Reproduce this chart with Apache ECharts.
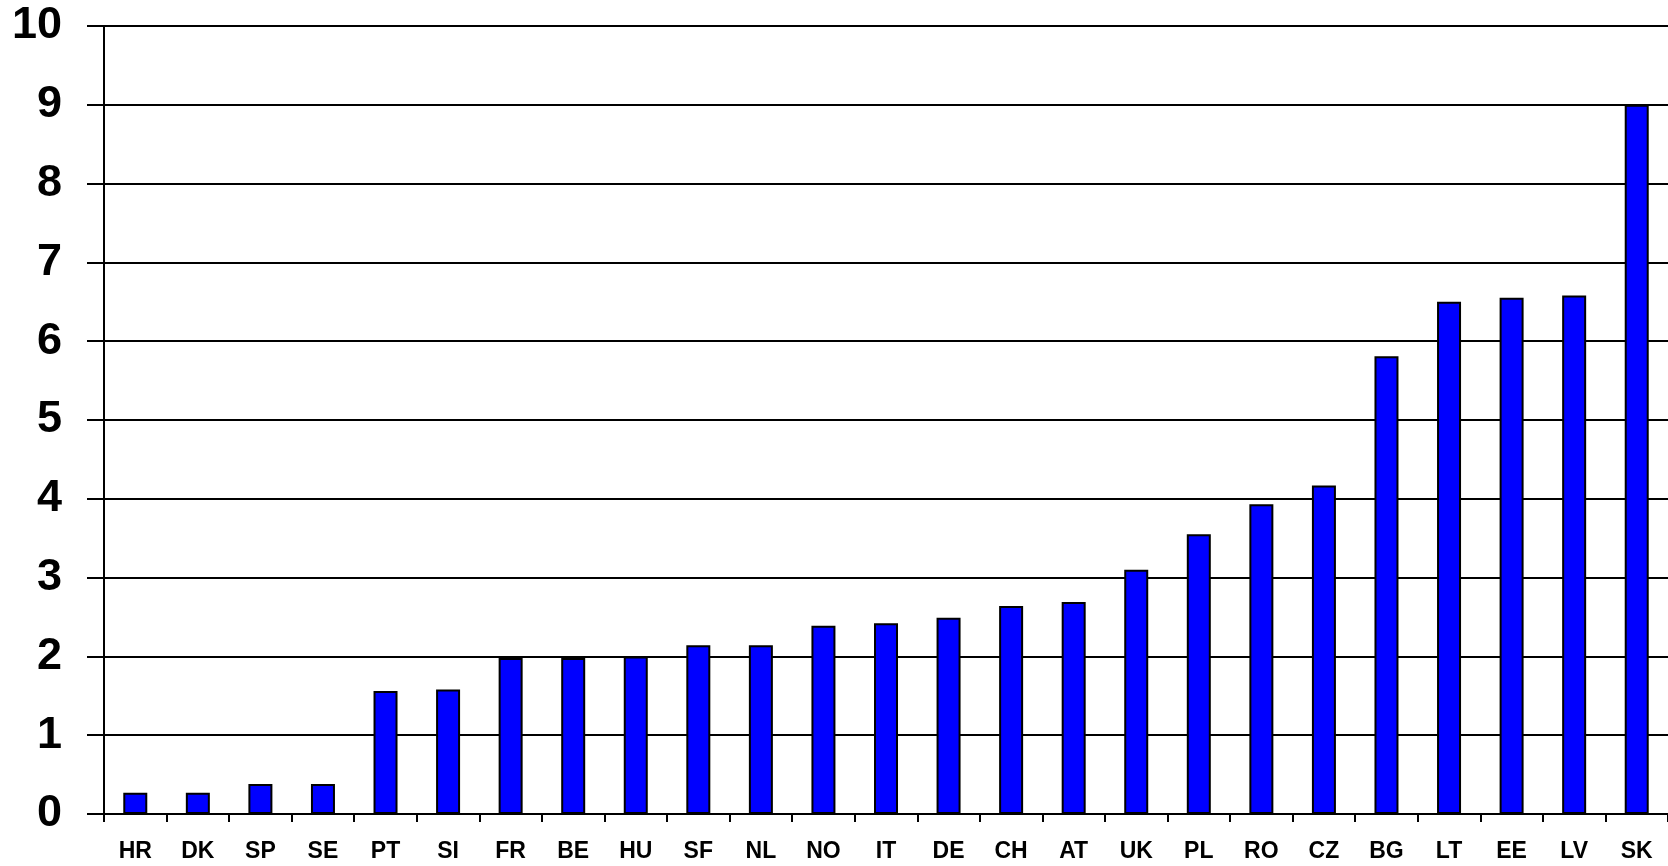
<!DOCTYPE html>
<html>
<head>
<meta charset="utf-8">
<script src="https://cdn.jsdelivr.net/npm/echarts@6/dist/echarts.min.js"></script>
<style>
html,body{margin:0;padding:0;background:#fff;}
#chart{width:1668px;height:866px;}
</style>
</head>
<body>
<div id="chart"></div>
<script>
const categories = ['HR','DK','SP','SE','PT','SI','FR','BE','HU','SF','NL','NO','IT','DE','CH','AT','UK','PL','RO','CZ','BG','LT','EE','LV','SK'];
const values = [0.27,0.27,0.38,0.38,1.56,1.58,1.98,1.98,2.0,2.14,2.14,2.39,2.42,2.49,2.64,2.69,3.10,3.55,3.93,4.17,5.81,6.50,6.55,6.58,9.0];
const yMin = 0, yMax = 10, yStep = 1;

const chart = echarts.init(document.getElementById('chart'));
chart.setOption({
  animation: false,
  backgroundColor: '#ffffff',
  grid: {left: 104, right: 0, top: 26, bottom: 52, containLabel: false},
  xAxis: {
    type: 'category',
    data: categories,
    axisLine: {show: true, lineStyle: {color: '#000', width: 2}},
    axisTick: {show: true, length: 8, lineStyle: {color: '#000', width: 2}, alignWithLabel: false},
    axisLabel: {color: '#000', fontFamily: 'Liberation Sans, Arial, sans-serif', fontWeight: 'bold', fontSize: 23, margin: 26, interval: 0},
    splitLine: {show: false}
  },
  yAxis: {
    type: 'value',
    min: yMin, max: yMax, interval: yStep,
    axisLine: {show: true, lineStyle: {color: '#000', width: 2}},
    axisTick: {show: true, length: 17, lineStyle: {color: '#000', width: 2}},
    axisLabel: {color: '#000', fontFamily: 'Liberation Sans, Arial, sans-serif', fontWeight: 'bold', fontSize: 45, margin: 42},
    splitLine: {show: true, lineStyle: {color: '#000', width: 2}}
  },
  series: [{
    type: 'bar',
    data: values,
    barWidth: 24,
    itemStyle: {color: '#0000ff', borderColor: '#000', borderWidth: 2}
  }]
});
</script>
</body>
</html>
